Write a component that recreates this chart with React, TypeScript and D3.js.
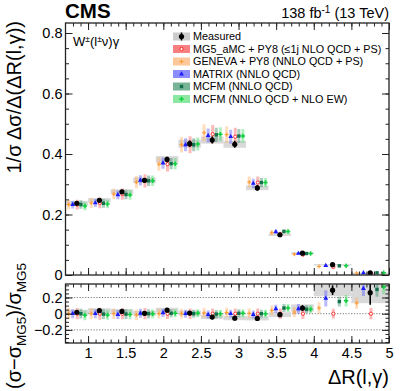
import React, { useEffect, useRef } from "react";
import * as d3 from "d3";

// bins in ΔR(l,γ)
const binEdges = [0.7, 1.0, 1.3, 1.6, 1.9, 2.2, 2.5, 2.8, 3.1, 3.4, 3.7, 4.0, 4.5, 5.0];

// measured normalised cross section
const measured = [0.237, 0.247, 0.275, 0.313, 0.382, 0.434, 0.446, 0.432, 0.288, 0.133, 0.072, 0.034, 0.007];

// (σ - σ_MG5) / σ_MG5
const ratioMeasured = [0.018, 0.037, 0.028, 0.005, 0.043, 0.008, -0.042, -0.055, -0.058, -0.012, 0.07, 0.29, 0.26];
const ratioGeneva = [0.0, 0.0, 0.0, -0.015, 0.0, 0.0, 0.01, 0.015, 0.005, 0.04, 0.02, 0.07, 0.13];
const ratioMatrix = [0.0, 0.0, -0.01, 0.005, 0.01, 0.0, -0.01, 0.0, -0.01, 0.06, 0.06, 0.19, 0.31];
const ratioMcfm = [0.0, -0.005, -0.005, 0.0, 0.005, 0.0, -0.005, 0.005, 0.0, 0.07, 0.055, 0.15, 0.3];
const ratioMcfmEw = [-0.02, -0.015, -0.01, 0.0, 0.005, 0.005, 0.0, 0.005, 0.0, 0.07, 0.055, 0.16, 0.33];
const ratioMg5 = [0, 0, 0, 0, 0, 0, 0, 0, 0, 0, 0, 0, 0];

// uncertainties, in units of σ_MG5
const errMeasured = [0.025, 0.025, 0.025, 0.025, 0.025, 0.025, 0.025, 0.025, 0.03, 0.03, 0.035, 0.06, 0.15];
const bandMeasured = [0.03, 0.03, 0.03, 0.03, 0.03, 0.03, 0.025, 0.025, 0.025, 0.03, 0.045, 0.075, 0.13];
const errMg5 = [0.07, 0.075, 0.07, 0.07, 0.065, 0.065, 0.065, 0.065, 0.065, 0.065, 0.065, 0.06, 0.07];
const errGeneva = [0.07, 0.07, 0.065, 0.065, 0.06, 0.06, 0.06, 0.06, 0.06, 0.06, 0.06, 0.07, 0.07];
const errMatrix = [0.055, 0.055, 0.055, 0.055, 0.05, 0.05, 0.05, 0.05, 0.05, 0.05, 0.06, 0.1, 0.09];
const errMcfm = [0.06, 0.06, 0.06, 0.055, 0.05, 0.05, 0.05, 0.05, 0.05, 0.05, 0.05, 0.06, 0.09];
const errMcfmEw = [0.06, 0.06, 0.06, 0.055, 0.05, 0.05, 0.05, 0.05, 0.05, 0.05, 0.05, 0.07, 0.09];

const legendLabels = [
  "Measured",
  "MG5_aMC + PY8 (\u22641j NLO QCD + PS)",
  "GENEVA + PY8 (NNLO QCD + PS)",
  "MATRIX (NNLO QCD)",
  "MCFM (NNLO QCD)",
  "MCFM (NNLO QCD + NLO EW)",
];

const FONT = "'Liberation Sans', Arial, Helvetica, sans-serif";

type Series = {
  ratio: number[];
  err: number[];
  color: string;
  bar: string;
  legendFill: string;
  marker: string;
  offset: number;
};

const predictions: Series[] = [
  { ratio: ratioMg5, err: errMg5, color: "#ff2020", bar: "rgba(255,80,80,0.4)", legendFill: "#f88080", marker: "circleOpen", offset: 0.02 },
  { ratio: ratioGeneva, err: errGeneva, color: "#ff9a30", bar: "rgba(255,170,90,0.4)", legendFill: "#fcc89a", marker: "plus", offset: -0.36 },
  { ratio: ratioMatrix, err: errMatrix, color: "#1a1aff", bar: "rgba(80,80,255,0.4)", legendFill: "#8c8cfa", marker: "triangle", offset: -0.18 },
  { ratio: ratioMcfm, err: errMcfm, color: "#14704a", bar: "rgba(40,130,90,0.4)", legendFill: "#78b496", marker: "square", offset: 0.18 },
  { ratio: ratioMcfmEw, err: errMcfmEw, color: "#10d040", bar: "rgba(60,220,100,0.4)", legendFill: "#8ce8a0", marker: "cross", offset: 0.36 },
];

function drawMarker(g: any, kind: string, cx: number, cy: number, color: string) {
  if (kind === "circle") {
    g.append("circle").attr("cx", cx).attr("cy", cy).attr("r", 2.6).attr("fill", color);
  } else if (kind === "circleOpen") {
    g.append("circle").attr("cx", cx).attr("cy", cy).attr("r", 1.6)
      .attr("fill", "white").attr("stroke", color).attr("stroke-width", 0.9);
  } else if (kind === "plus") {
    g.append("path")
      .attr("d", `M${cx - 2},${cy}H${cx + 2}M${cx},${cy - 2}V${cy + 2}`)
      .attr("stroke", color).attr("stroke-width", 1);
  } else if (kind === "triangle") {
    g.append("path").attr("transform", `translate(${cx},${cy})`)
      .attr("d", d3.symbol(d3.symbolTriangle, 10)()).attr("fill", color);
  } else if (kind === "square") {
    g.append("rect").attr("x", cx - 1.7).attr("y", cy - 1.7).attr("width", 3.4).attr("height", 3.4).attr("fill", color);
  } else if (kind === "cross") {
    g.append("path").attr("transform", `translate(${cx},${cy})`)
      .attr("d", d3.symbol(d3.symbolCross, 11)()).attr("fill", color);
  }
}

export default function App() {
  const ref = useRef<SVGSVGElement>(null);

  useEffect(() => {
    const width = 407;
    const height = 391;
    const svg = d3.select(ref.current);
    svg.selectAll("*").remove();
    svg.attr("width", width).attr("height", height).style("font-family", FONT);

    const left = 65.5, right = 389;
    const mainTop = 23, mainBottom = 275;
    const ratioTop = 284, ratioBottom = 343;

    const x = d3.scaleLinear().domain([0.7, 5]).range([left, right]);
    const y = d3.scaleLinear().domain([0, 0.8]).range([mainBottom, 33]);
    const yr = d3.scaleLinear().domain([-0.2, 0.2]).range([329.9, 297.5]);

    const mg5 = measured.map((m, i) => m / (1 + ratioMeasured[i]));
    const bins = d3.range(measured.length).map(i => ({
      lo: binEdges[i],
      hi: binEdges[i + 1],
      c: (binEdges[i] + binEdges[i + 1]) / 2,
      w: binEdges[i + 1] - binEdges[i],
    }));

    const defs = svg.append("defs");
    defs.append("clipPath").attr("id", "clipRatio")
      .append("rect").attr("x", left).attr("y", ratioTop).attr("width", right - left).attr("height", ratioBottom - ratioTop);
    defs.append("clipPath").attr("id", "clipMain")
      .append("rect").attr("x", left).attr("y", mainTop).attr("width", right - left).attr("height", mainBottom - mainTop);

    // ---------- main panel ----------
    const main = svg.append("g").attr("clip-path", "url(#clipMain)");

    bins.forEach((b, i) => {
      const hi = measured[i] + mg5[i] * bandMeasured[i];
      const lo = measured[i] - mg5[i] * bandMeasured[i];
      main.append("rect")
        .attr("x", x(b.lo)).attr("width", x(b.hi) - x(b.lo))
        .attr("y", y(hi)).attr("height", Math.max(1.5, y(lo) - y(hi)))
        .attr("fill", "#d9d9d9");
    });

    predictions.forEach(s => {
      bins.forEach((b, i) => {
        const px = x(b.c + s.offset * b.w);
        const v = mg5[i] * (1 + s.ratio[i]);
        const e = mg5[i] * s.err[i];
        main.append("line").attr("x1", px).attr("x2", px)
          .attr("y1", y(v - e)).attr("y2", y(v + e))
          .attr("stroke", s.bar).attr("stroke-width", 3);
      });
    });
    predictions.forEach(s => {
      bins.forEach((b, i) => {
        const px = x(b.c + s.offset * b.w);
        const v = mg5[i] * (1 + s.ratio[i]);
        drawMarker(main, s.marker, px, y(v), s.color);
      });
    });
    bins.forEach((b, i) => {
      const e = mg5[i] * errMeasured[i];
      main.append("line").attr("x1", x(b.c)).attr("x2", x(b.c))
        .attr("y1", y(measured[i] - e)).attr("y2", y(measured[i] + e))
        .attr("stroke", "black").attr("stroke-width", 1.6);
      drawMarker(main, "circle", x(b.c), y(measured[i]), "black");
    });

    // ---------- ratio panel ----------
    const ratio = svg.append("g").attr("clip-path", "url(#clipRatio)");
    [-0.2, 0, 0.2].forEach(t => {
      ratio.append("line").attr("x1", left).attr("x2", right)
        .attr("y1", yr(t)).attr("y2", yr(t))
        .attr("stroke", "#555").attr("stroke-width", 0.8).attr("stroke-dasharray", "1.2,1.6");
    });
    bins.forEach((b, i) => {
      ratio.append("rect")
        .attr("x", x(b.lo)).attr("width", x(b.hi) - x(b.lo))
        .attr("y", yr(ratioMeasured[i] + bandMeasured[i]))
        .attr("height", yr(ratioMeasured[i] - bandMeasured[i]) - yr(ratioMeasured[i] + bandMeasured[i]))
        .attr("fill", "#d9d9d9");
    });
    predictions.forEach(s => {
      bins.forEach((b, i) => {
        const px = x(b.c + s.offset * b.w);
        ratio.append("line").attr("x1", px).attr("x2", px)
          .attr("y1", yr(s.ratio[i] - s.err[i])).attr("y2", yr(s.ratio[i] + s.err[i]))
          .attr("stroke", s.bar).attr("stroke-width", 3);
      });
    });
    predictions.forEach(s => {
      bins.forEach((b, i) => {
        drawMarker(ratio, s.marker, x(b.c + s.offset * b.w), yr(s.ratio[i]), s.color);
      });
    });
    bins.forEach((b, i) => {
      ratio.append("line").attr("x1", x(b.c)).attr("x2", x(b.c))
        .attr("y1", yr(ratioMeasured[i] - errMeasured[i])).attr("y2", yr(ratioMeasured[i] + errMeasured[i]))
        .attr("stroke", "black").attr("stroke-width", 1.6);
      drawMarker(ratio, "circle", x(b.c), yr(ratioMeasured[i]), "black");
    });

    // ---------- axes (ticks pointing inward) ----------
    const xMajor = [1, 1.5, 2, 2.5, 3, 3.5, 4, 4.5, 5];
    const xMinor = d3.range(8, 50).map(v => v / 10);
    const styleAxis = (g: any) => {
      g.select(".domain").remove();
      g.selectAll("line").attr("stroke", "#222").attr("stroke-width", 1);
      g.selectAll("text").attr("font-family", FONT).attr("font-size", 14.5).attr("fill", "black");
    };
    const addXAxes = (yBottom: number, yTop: number, labels: boolean) => {
      svg.append("g").attr("transform", `translate(0,${yBottom})`)
        .call(d3.axisBottom(x).tickValues(xMinor).tickSizeInner(-3.5).tickSizeOuter(0).tickFormat(() => ""))
        .call(styleAxis);
      svg.append("g").attr("transform", `translate(0,${yBottom})`)
        .call(d3.axisBottom(x).tickValues(xMajor).tickSizeInner(-7).tickSizeOuter(0)
          .tickPadding(5).tickFormat(labels ? (d: any) => d3.format("")(d) : () => ""))
        .call(styleAxis);
      svg.append("g").attr("transform", `translate(0,${yTop})`)
        .call(d3.axisTop(x).tickValues(xMinor).tickSizeInner(-3.5).tickSizeOuter(0).tickFormat(() => ""))
        .call(styleAxis);
      svg.append("g").attr("transform", `translate(0,${yTop})`)
        .call(d3.axisTop(x).tickValues(xMajor).tickSizeInner(-7).tickSizeOuter(0).tickFormat(() => ""))
        .call(styleAxis);
    };
    addXAxes(mainBottom, mainTop, false);
    addXAxes(ratioBottom, ratioTop, true);

    const yMinor = d3.range(0, 17).map(v => v * 0.05);
    svg.append("g").attr("transform", `translate(${left},0)`)
      .call(d3.axisLeft(y).tickValues(yMinor).tickSizeInner(-3.5).tickSizeOuter(0).tickFormat(() => ""))
      .call(styleAxis);
    svg.append("g").attr("transform", `translate(${left},0)`)
      .call(d3.axisLeft(y).tickValues([0, 0.2, 0.4, 0.6, 0.8]).tickSizeInner(-7).tickSizeOuter(0)
        .tickPadding(3).tickFormat((d: any) => (d === 0 ? "0" : d3.format(".1f")(d))))
      .call(styleAxis);
    svg.append("g").attr("transform", `translate(${right},0)`)
      .call(d3.axisRight(y).tickValues(yMinor).tickSizeInner(-3.5).tickSizeOuter(0).tickFormat(() => ""))
      .call(styleAxis);
    svg.append("g").attr("transform", `translate(${right},0)`)
      .call(d3.axisRight(y).tickValues([0, 0.2, 0.4, 0.6, 0.8]).tickSizeInner(-7).tickSizeOuter(0).tickFormat(() => ""))
      .call(styleAxis);

    const yrMinor = d3.range(-7, 8).map(v => v * 0.05);
    svg.append("g").attr("transform", `translate(${left},0)`)
      .call(d3.axisLeft(yr).tickValues(yrMinor).tickSizeInner(-3.5).tickSizeOuter(0).tickFormat(() => ""))
      .call(styleAxis);
    svg.append("g").attr("transform", `translate(${left},0)`)
      .call(d3.axisLeft(yr).tickValues([-0.2, 0, 0.2]).tickSizeInner(-7).tickSizeOuter(0)
        .tickPadding(3).tickFormat((d: any) => (d === 0 ? "0" : d3.format(".1f")(d).replace("-", "\u2212"))))
      .call(styleAxis);
    svg.append("g").attr("transform", `translate(${right},0)`)
      .call(d3.axisRight(yr).tickValues(yrMinor).tickSizeInner(-3.5).tickSizeOuter(0).tickFormat(() => ""))
      .call(styleAxis);
    svg.append("g").attr("transform", `translate(${right},0)`)
      .call(d3.axisRight(yr).tickValues([-0.2, 0, 0.2]).tickSizeInner(-7).tickSizeOuter(0).tickFormat(() => ""))
      .call(styleAxis);

    // frames
    svg.append("rect").attr("x", left).attr("y", mainTop).attr("width", right - left).attr("height", mainBottom - mainTop)
      .attr("fill", "none").attr("stroke", "#222").attr("stroke-width", 1.3);
    svg.append("rect").attr("x", left).attr("y", ratioTop).attr("width", right - left).attr("height", ratioBottom - ratioTop)
      .attr("fill", "none").attr("stroke", "#222").attr("stroke-width", 1.3);

    // ---------- legend ----------
    const legend = svg.append("g").attr("class", "legend");
    const legendMarkers = ["circle", "circleOpen", "plus", "triangle", "square", "cross"];
    const legendColors = ["black", ...predictions.map(p => p.color)];
    const legendFills = ["#cccccc", ...predictions.map(p => p.legendFill)];
    legendLabels.forEach((label, i) => {
      const cy = 36.5 + i * 12.5;
      legend.append("rect").attr("x", 173).attr("y", cy - 4).attr("width", 17).attr("height", 8)
        .attr("fill", legendFills[i]);
      if (i === 0) {
        legend.append("line").attr("x1", 181.5).attr("x2", 181.5).attr("y1", cy - 4).attr("y2", cy + 4)
          .attr("stroke", "black").attr("stroke-width", 1.5);
      }
      drawMarker(legend, legendMarkers[i], 181.5, cy, legendColors[i]);
      legend.append("text").attr("x", 193).attr("y", cy).attr("dy", "0.36em")
        .attr("font-size", 10.8).text(label);
    });

    // ---------- labels ----------
    svg.append("text").attr("x", 65).attr("y", 18).attr("font-size", 20.5).attr("font-weight", "bold").text("CMS");

    const lumi = svg.append("text").attr("x", right).attr("y", 18).attr("text-anchor", "end").attr("font-size", 14.5);
    lumi.append("tspan").text("138 fb");
    lumi.append("tspan").attr("dy", -5.5).attr("font-size", 10).text("-1");
    lumi.append("tspan").attr("dy", 5.5).text(" (13 TeV)");

    const proc = svg.append("text").attr("x", 73).attr("y", 46).attr("font-size", 13);
    proc.append("tspan").text("W");
    proc.append("tspan").attr("dy", -4.5).attr("font-size", 8.5).text("\u00b1");
    proc.append("tspan").attr("dy", 4.5).text("(l");
    proc.append("tspan").attr("dy", -4.5).attr("font-size", 8.5).text("\u00b1");
    proc.append("tspan").attr("dy", 4.5).text("\u03bd)\u03b3");

    svg.append("text").attr("x", right).attr("y", 384).attr("text-anchor", "end").attr("font-size", 20)
      .text("\u0394R(l,\u03b3)");

    svg.append("text").attr("transform", `translate(21,21) rotate(-90)`).attr("text-anchor", "end")
      .attr("font-size", 20).text("1/\u03c3 \u0394\u03c3/\u0394(\u0394R(l,\u03b3))");

    const rl = svg.append("text").attr("transform", `translate(21,389) rotate(-90)`).attr("font-size", 20);
    rl.append("tspan").text("(\u03c3\u2212\u03c3");
    rl.append("tspan").attr("dy", 4.5).attr("font-size", 13.5).text("MG5");
    rl.append("tspan").attr("dy", -4.5).text(")/\u03c3");
    rl.append("tspan").attr("dy", 4.5).attr("font-size", 13.5).text("MG5");
  }, []);

  return <svg ref={ref} style={{ position: "absolute", left: 0, top: 0, background: "white" }} />;
}
